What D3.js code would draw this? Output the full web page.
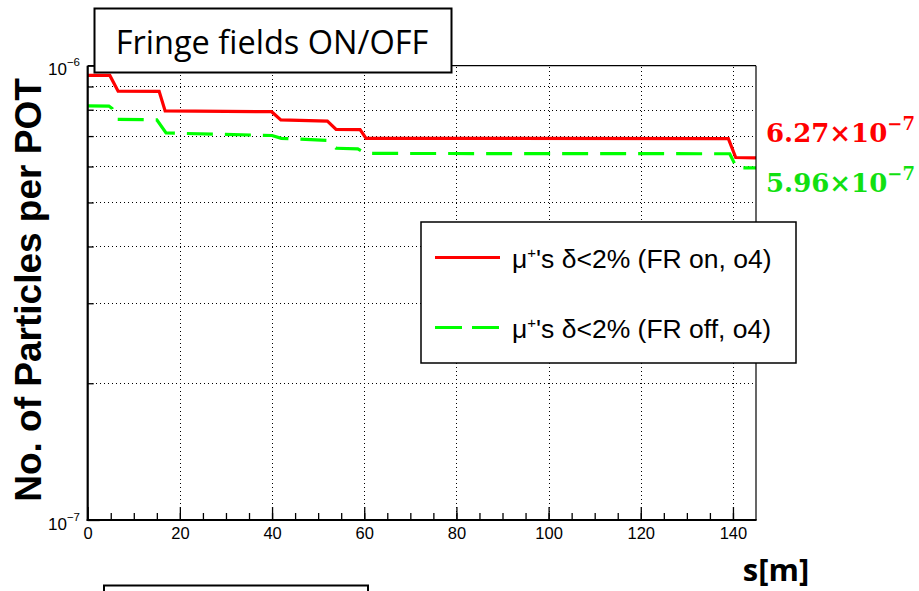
<!DOCTYPE html>
<html>
<head>
<meta charset="utf-8">
<script src="https://cdn.jsdelivr.net/npm/d3@7/dist/d3.min.js"></script>
<style>
  html, body { margin: 0; padding: 0; background: #fff; }
  svg { display: block; }
</style>
</head>
<body>
<svg id="chart" width="919" height="591"></svg>
<script>
// Surviving muons per proton on target along the beamline
const sOn  = [0, 4.8, 6.6, 15.5, 16.8, 39.9, 41.9, 52.0, 53.9, 59.1, 60.4, 139.0, 140.6, 145];
const nOn  = [9.52e-7, 9.52e-7, 8.79e-7, 8.78e-7, 7.95e-7, 7.92e-7, 7.60e-7, 7.55e-7, 7.24e-7, 7.23e-7, 6.92e-7, 6.91e-7, 6.28e-7, 6.27e-7];
const sOff = [0, 4.6, 5.3, 6.3, 15.0, 17.0, 40.0, 42.0, 52.0, 53.9, 58.6, 60.4, 139.3, 140.8, 145];
const nOff = [8.16e-7, 8.15e-7, 8.05e-7, 7.62e-7, 7.60e-7, 7.11e-7, 7.02e-7, 6.92e-7, 6.85e-7, 6.58e-7, 6.56e-7, 6.41e-7, 6.40e-7, 5.96e-7, 5.96e-7];

const xMajor = [0, 20, 40, 60, 80, 100, 120, 140];
const xMinor = d3.range(5, 145, 5);
const yDecades = [1e-7, 1e-6];
const yDecadeExp = ["\u22127", "\u22126"];
const yMinor = [2e-7, 3e-7, 4e-7, 5e-7, 6e-7, 7e-7, 8e-7, 9e-7];

const endValues = [
  { mant: "6.27\u00d710", exp: "\u22127", value: nOn[nOn.length - 1], color: "#ff0000" },
  { mant: "5.96\u00d710", exp: "\u22127", value: nOff[nOff.length - 1], color: "#11e011" }
];

const svg = d3.select("#chart");
const x = d3.scaleLinear().domain([0, 145]).range([87.7, 756]);
const y = d3.scaleLog().domain([1e-7, 1e-6]).range([520, 65.7]);
const px = v => Math.round(v) + 0.5;

const sans = "'Liberation Sans', Arial, sans-serif";

// grid
const grid = svg.append("g").attr("shape-rendering", "crispEdges");
grid.selectAll("line.v").data(xMajor.filter(d => d > 0)).join("line")
  .attr("x1", d => px(x(d))).attr("x2", d => px(x(d)))
  .attr("y1", y(1e-7)).attr("y2", y(1e-6))
  .attr("stroke", "#000").attr("stroke-width", 1).attr("stroke-dasharray", "1,3");
grid.selectAll("line.h").data(yMinor).join("line")
  .attr("x1", x(0)).attr("x2", x(145))
  .attr("y1", d => px(y(d))).attr("y2", d => px(y(d)))
  .attr("stroke", "#000").attr("stroke-width", 1).attr("stroke-dasharray", "1,3");

// curves
const line = d3.line().x(d => x(d[0])).y(d => y(d[1]));
svg.append("path").datum(d3.zip(sOff, nOff))
  .attr("d", line).attr("fill", "none")
  .attr("stroke", "#00ff00").attr("stroke-width", 3.2)
  .attr("stroke-dasharray", "26,12");
svg.append("path").datum(d3.zip(sOn, nOn))
  .attr("d", line).attr("fill", "none")
  .attr("stroke", "#ff0000").attr("stroke-width", 3.2);

// frame
svg.append("line").attr("x1", x(0)).attr("x2", x(145)).attr("y1", y(1e-6)).attr("y2", y(1e-6))
  .attr("stroke", "#000").attr("stroke-width", 1.2);
svg.append("line").attr("x1", x(145)).attr("x2", x(145)).attr("y1", y(1e-6)).attr("y2", y(1e-7))
  .attr("stroke", "#000").attr("stroke-width", 1.2);

// x axis
const xAxisMinor = d3.axisBottom(x).tickValues(xMinor).tickSize(-7).tickFormat("");
const xAxisMajor = d3.axisBottom(x).tickValues(xMajor).tickSize(-13).tickPadding(20).tickFormat(d3.format("d"));
const gxm = svg.append("g").attr("transform", `translate(0,${y(1e-7)})`).call(xAxisMinor);
const gx = svg.append("g").attr("transform", `translate(0,${y(1e-7)})`).call(xAxisMajor);
[gxm, gx].forEach(g => {
  g.select(".domain").remove();
  g.selectAll(".tick line").attr("stroke", "#000").attr("stroke-width", 1.3);
});
gx.selectAll(".tick text").attr("font-family", sans).attr("font-size", 16.5).attr("fill", "#000")
  .attr("dy", null).attr("y", 19);
svg.append("line").attr("x1", x(0) - 1).attr("x2", x(145) + 0.6).attr("y1", y(1e-7)).attr("y2", y(1e-7))
  .attr("stroke", "#000").attr("stroke-width", 2.2);

// y axis
const yAxisMinor = d3.axisLeft(y).tickValues(yMinor).tickSize(-6).tickFormat("");
const yAxisMajor = d3.axisLeft(y).tickValues(yDecades).tickSize(-12).tickFormat("");
[yAxisMinor, yAxisMajor].forEach(a => {
  const g = svg.append("g").attr("transform", `translate(${x(0)},0)`).call(a);
  g.select(".domain").remove();
  g.selectAll(".tick line").attr("stroke", "#000").attr("stroke-width", 1.3);
});
svg.append("line").attr("x1", x(0)).attr("x2", x(0)).attr("y1", y(1e-6)).attr("y2", y(1e-7) + 1)
  .attr("stroke", "#000").attr("stroke-width", 2.2);

const yLab = svg.append("g").selectAll("text").data(yDecades).join("text")
  .attr("x", 80).attr("y", d => y(d) + 9.5)
  .attr("text-anchor", "end").attr("font-family", sans).attr("font-size", 17).attr("fill", "#000");
yLab.append("tspan").text("10");
yLab.append("tspan").attr("dy", -9).attr("font-size", 11.5).text((d, i) => yDecadeExp[i]);

// axis titles
svg.append("text").attr("transform", "translate(40.5,290) rotate(-90)")
  .attr("text-anchor", "middle").attr("font-family", sans).attr("font-weight", "bold")
  .attr("font-size", 37).attr("fill", "#000").text("No. of Particles per POT");
svg.append("text").attr("x", 776).attr("y", 581)
  .attr("text-anchor", "middle").attr("font-family", "'Open Sans', sans-serif").attr("font-weight", "bold")
  .attr("font-size", 31).attr("fill", "#000").text("s[m]");

// end-point value labels
const endLab = svg.append("g").selectAll("text").data(endValues).join("text")
  .attr("x", 766).attr("y", (d, i) => i === 0 ? 142 : 192)
  .attr("font-family", "'DejaVu Serif', serif").attr("font-weight", "bold")
  .attr("font-size", 26).attr("fill", d => d.color);
endLab.append("tspan").text(d => d.mant);
endLab.append("tspan").attr("dy", -12).attr("font-size", 18).text(d => d.exp);

// legend
const lg = svg.append("g");
lg.append("rect").attr("x", 421).attr("y", 222).attr("width", 375).attr("height", 141)
  .attr("fill", "#fff").attr("stroke", "#000").attr("stroke-width", 1.5);
const legendItems = [
  { label: "FR on, o4", color: "#ff0000", dash: null, cy: 257.5 },
  { label: "FR off, o4", color: "#00ff00", dash: "27,10", cy: 327.5 }
];
legendItems.forEach(it => {
  lg.append("line").attr("x1", 435).attr("x2", 500).attr("y1", it.cy).attr("y2", it.cy)
    .attr("stroke", it.color).attr("stroke-width", 3.2).attr("stroke-dasharray", it.dash);
  const t = lg.append("text").attr("x", 512).attr("y", it.cy + 10.5)
    .attr("font-family", sans).attr("font-size", 26.5).attr("fill", "#000");
  t.append("tspan").text("\u03bc");
  t.append("tspan").attr("dy", -10).attr("font-size", 15).text("+");
  t.append("tspan").attr("dy", 10).text("'s \u03b4<2% (" + it.label + ")");
});

// title box
svg.append("rect").attr("x", 94.5).attr("y", 8.5).attr("width", 357).attr("height", 64)
  .attr("fill", "#fff").attr("stroke", "#000").attr("stroke-width", 2);
svg.append("text").attr("x", 272).attr("y", 53.5).attr("text-anchor", "middle")
  .attr("font-family", "'Open Sans', sans-serif").attr("font-size", 32.5).attr("fill", "#000")
  .text("Fringe fields ON/OFF");

// lower box edge
svg.append("rect").attr("x", 104).attr("y", 585.5).attr("width", 264).attr("height", 20)
  .attr("fill", "#fff").attr("stroke", "#000").attr("stroke-width", 2);
</script>
</body>
</html>
